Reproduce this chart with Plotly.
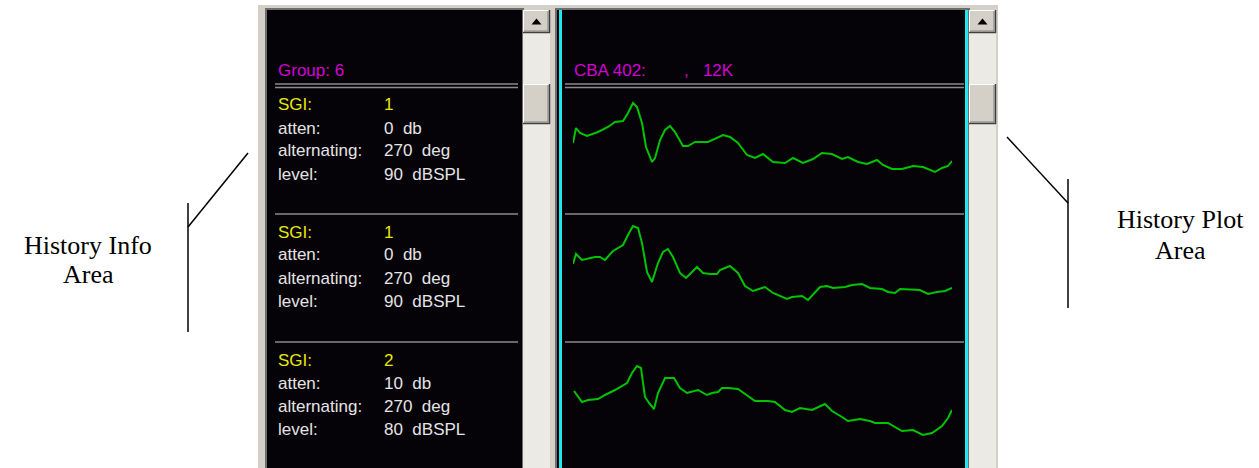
import plotly.graph_objects as go

# window size of the screenshot
W, H = 1259, 468

# history info values, one entry per stored waveform
sgi = [1, 1, 2]
atten_db = [0, 0, 10]
alternating_deg = [270, 270, 270]
level_dbspl = [90, 90, 80]
group_label = "Group: 6"
plot_label = "CBA 402:"
plot_label_2 = ",   12K"

# waveforms (sample index, amplitude in arbitrary units)
t1 = [0, 3, 7, 14, 25, 35, 42, 50, 55, 60, 64, 69, 73, 79, 82, 87, 92, 97, 102, 110,
      115, 122, 135, 144, 150, 157, 165, 174, 182, 190, 200, 212, 220, 230, 240, 249,
      259, 269, 275, 285, 294, 304, 310, 319, 329, 340, 350, 362, 369, 375, 379]
v1 = [-3, 12, 7, 4, 8, 13, 18, 19, 27, 37, 33, 17, -7, -22, -18, 0, 10, 14, 8, -6,
      -6, -2, -2, 2, 5, 3, -3, -15, -18, -14, -22, -23, -18, -23, -19, -13,
      -14, -19, -17, -22, -24, -20, -25, -29, -29, -26, -27, -32, -28, -26, -21]

t2 = [0, 3, 9, 22, 27, 32, 40, 50, 55, 60, 65, 69, 74, 79, 85, 90, 95, 100, 107, 113,
      119, 124, 130, 137, 144, 147, 157, 165, 172, 180, 192, 200, 214, 219, 229, 235,
      247, 254, 260, 272, 279, 289, 297, 309, 315, 322, 327, 347, 355, 364, 372, 379]
v2 = [6, 16, 10, 13, 13, 10, 19, 25, 35, 44, 42, 27, -2, -12, 7, 18, 21, 13, -3, -8,
      -2, 3, -3, -4, -4, 0, 4, -3, -16, -21, -17, -23, -29, -27, -26, -30,
      -17, -16, -18, -17, -15, -14, -18, -19, -22, -23, -19, -20, -24, -22, -21, -18]

t3 = [1, 9, 15, 25, 32, 42, 54, 59, 64, 68, 72, 76, 81, 85, 92, 101, 107, 114, 125, 134,
      139, 145, 149, 155, 165, 175, 182, 195, 202, 212, 219, 227, 239, 252, 259, 269,
      275, 287, 297, 302, 315, 329, 340, 350, 359, 369, 375, 379]
v3 = [7, -4, -2, -1, 3, 8, 15, 25, 32, 30, 1, -5, -11, 5, 20, 20, 10, 5, 8, 3,
      5, 6, 10, 10, 9, 2, -3, -3, -4, -12, -14, -10, -12, -6, -13, -19,
      -23, -21, -23, -25, -25, -33, -32, -37, -35, -28, -20, -12]

FACE = "#d4d0c8"
TRACK = "#ebeae5"
PANEL = "#050308"
SEP = "#8a8a8a"
CYAN = "#1ee8ee"
TEXT = "#e4e4e4"
YELLOW = "#e8e800"
MAGENTA = "#d400d4"
GREEN = "#00c400"
UIFONT = "Liberation Sans, Arial"


def px(x):
    return x / W


def py(y):
    return 1 - y / H


shapes = []


def rect(x0, y0, x1, y1, fill, line=None, lw=0):
    shapes.append(dict(type="rect", xref="paper", yref="paper",
                       x0=px(x0), x1=px(x1), y0=py(y1), y1=py(y0),
                       fillcolor=fill, line=dict(color=line or fill, width=lw),
                       layer="below"))


def seg(x0, y0, x1, y1, color, lw=1, layer="below"):
    shapes.append(dict(type="line", xref="paper", yref="paper",
                       x0=px(x0), x1=px(x1), y0=py(y0), y1=py(y1),
                       line=dict(color=color, width=lw), layer=layer))


def button(x0, y0, x1, y1):
    rect(x0, y0, x1, y1, FACE)
    seg(x0 + 0.5, y0 + 0.5, x1, y0 + 0.5, "#ffffff", 1)
    seg(x0 + 0.5, y0 + 0.5, x0 + 0.5, y1, "#ffffff", 1)
    seg(x0, y1 - 0.5, x1, y1 - 0.5, "#404040", 1.5)
    seg(x1 - 0.5, y0, x1 - 0.5, y1, "#404040", 1.5)
    seg(x0 + 1, y1 - 2, x1 - 2, y1 - 2, "#808080", 1)
    seg(x1 - 2, y0 + 1, x1 - 2, y1 - 2, "#808080", 1)


def up_arrow(cx, cy):
    shapes.append(dict(type="path", xref="paper", yref="paper",
                       path="M {} {} L {} {} L {} {} Z".format(
                           px(cx - 5), py(cy + 3), px(cx + 5), py(cy + 3), px(cx), py(cy - 3)),
                       fillcolor="#000000", line=dict(width=0), layer="below"))


def scrollbar(x0, x1):
    rect(x0, 10, x1, 470, TRACK)
    button(x0, 10, x1, 33)
    up_arrow((x0 + x1) / 2, 21.5)
    button(x0, 84, x1, 124)


# window background
rect(258, 5, 998, 470, FACE)

# left (info) panel
rect(266, 9, 523, 470, PANEL, "#6e6e6e", 2)
scrollbar(523, 550)

# right (plot) panel
rect(556, 9, 969, 470, PANEL, "#6e6e6e", 2)
seg(560.5, 10, 560.5, 470, CYAN, 3)
seg(966.5, 10, 966.5, 470, CYAN, 3)
scrollbar(969, 996)

# separators
for xa, xb in [(275, 518), (565, 964)]:
    seg(xa, 84, xb, 84, SEP, 1.5)
    seg(xa, 87.5, xb, 87.5, SEP, 1.5)
    seg(xa, 214, xb, 214, SEP, 1.5)
    seg(xa, 342, xb, 342, SEP, 1.5)

# callout lines
seg(188, 203, 188, 332, "#000000", 1.5, "above")
seg(188, 227, 248, 153, "#000000", 1.5, "above")
seg(1068, 179, 1068, 308, "#000000", 1.5, "above")
seg(1007, 137, 1068, 203, "#000000", 1.5, "above")

annotations = []


def label(x, y, text, color, size=17, family=UIFONT, anchor="left"):
    annotations.append(dict(xref="paper", yref="paper", x=px(x), y=py(y), text=text,
                            showarrow=False, xanchor=anchor, yanchor="middle",
                            font=dict(family=family, size=size, color=color)))


label(276, 70, group_label, MAGENTA)
label(572, 70, plot_label, MAGENTA)
label(682, 70, plot_label_2, MAGENTA)

row_tops = [105, 232, 360]
for i, top in enumerate(row_tops):
    rows = [("SGI:", str(sgi[i]), YELLOW),
            ("atten:", "{}  db".format(atten_db[i]), TEXT),
            ("alternating:", "{}  deg".format(alternating_deg[i]), TEXT),
            ("level:", "{}  dBSPL".format(level_dbspl[i]), TEXT)]
    for j, (name, val, col) in enumerate(rows):
        label(276, top + j * 23, name, col)
        label(382, top + j * 23, val, col)

SERIF = "Liberation Serif, Times New Roman"
label(88, 245, "History Info", "#000000", 26, SERIF, "center")
label(88, 274, "Area", "#000000", 26, SERIF, "center")
label(1180, 219, "History Plot", "#000000", 26, SERIF, "center")
label(1180, 250, "Area", "#000000", 26, SERIF, "center")

fig = go.Figure()
waves = [(t1, v1), (t2, v2), (t3, v3)]
bands = [(95, 200, 140), (220, 335, 270), (350, 460, 398)]
for i, (t, v) in enumerate(waves):
    sfx = "" if i == 0 else str(i + 1)
    fig.add_trace(go.Scatter(x=t, y=v, mode="lines", line=dict(color=GREEN, width=2),
                             xaxis="x" + sfx, yaxis="y" + sfx, hoverinfo="skip",
                             showlegend=False))
    top, bottom, base = bands[i]
    fig.layout["xaxis" + sfx] = dict(domain=[px(573), px(952)], range=[0, 379],
                                     visible=False, anchor="y" + sfx)
    fig.layout["yaxis" + sfx] = dict(domain=[py(bottom), py(top)], range=[base - bottom, base - top],
                                     visible=False, anchor="x" + sfx)

fig.update_layout(
    width=W, height=H, autosize=False,
    margin=dict(l=0, r=0, t=0, b=0),
    paper_bgcolor="#ffffff", plot_bgcolor="rgba(0,0,0,0)",
    shapes=shapes, annotations=annotations, showlegend=False,
)

# drop the page's default body margin so the figure fills the window exactly
fig.write_html("out.html", config={"displayModeBar": False},
               post_script="document.body.style.margin='0';document.body.style.overflow='hidden';")
